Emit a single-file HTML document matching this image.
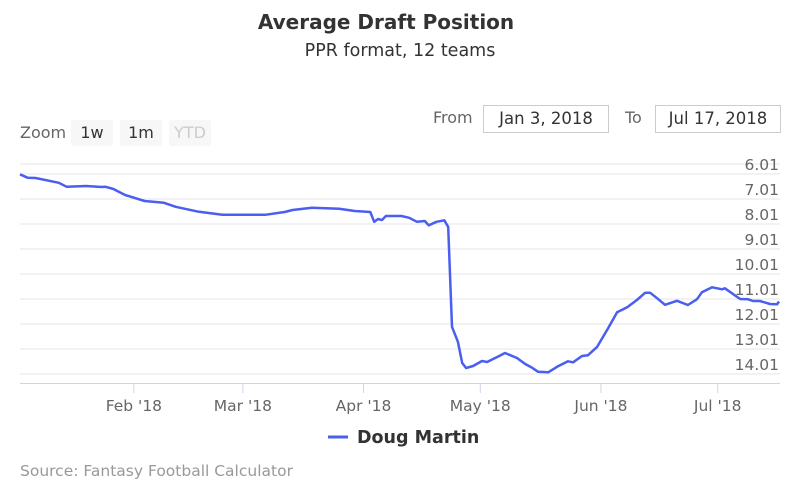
<!DOCTYPE html>
<html><head><meta charset="utf-8"><style>
body{margin:0;background:#fff;font-family:"DejaVu Sans","Liberation Sans",sans-serif;}
#wrap{position:relative;width:800px;height:500px;overflow:hidden;}
.t{position:absolute;white-space:nowrap;}
.btn{position:absolute;top:120px;height:26px;line-height:26px;background:#f7f7f7;color:#333;font-size:16px;text-align:center;border-radius:2px;}
.inp{position:absolute;top:105px;height:26px;line-height:26px;border:1px solid #ccc;font-size:16.5px;color:#333;text-align:center;}
</style></head><body>
<div id="wrap">
<div class="t" style="left:-14px;width:800px;text-align:center;top:10px;font-size:20px;font-weight:bold;color:#333;">Average Draft Position</div>
<div class="t" style="left:0;width:800px;text-align:center;top:41px;font-size:17.5px;color:#333;">PPR format, 12 teams</div>
<div class="t" style="left:20px;top:123px;font-size:16px;color:#666;">Zoom</div>
<div class="btn" style="left:71px;width:42px;">1w</div>
<div class="btn" style="left:120px;width:42px;">1m</div>
<div class="btn" style="left:169px;width:42px;color:#ccc;">YTD</div>
<div class="t" style="left:433px;top:108px;font-size:16px;color:#666;">From</div>
<div class="inp" style="left:483px;width:124px;">Jan 3, 2018</div>
<div class="t" style="left:625px;top:108px;font-size:16px;color:#666;">To</div>
<div class="inp" style="left:655px;width:124px;">Jul 17, 2018</div>
<svg id="svg" width="800" height="500" style="position:absolute;left:0;top:0"></svg>
<div class="t" style="left:20px;top:462px;font-size:15.5px;color:#999;">Source: Fantasy Football Calculator</div>
</div>
<script>
const days=[0,2,4,10,12,17,21,22,24,27,32,37,40,46,52,63,68,70,75,82,86,90,91,92,93,94,98,100,102,104,105,107,109,110,111,112.5,113.6,114.6,116.4,118.7,120,122.6,124.6,127.7,129.8,131.6,133.1,135.7,138,140.8,142.1,144.4,145.9,148.3,151.1,153.4,156,158.5,160.6,161.9,163.7,165.7,168.8,171.6,173.9,175.2,177.8,180.4,181.1,185,187.1,188.3,190.1,192.7,194.5,195];
const adp=[6.02,6.16,6.17,6.36,6.52,6.49,6.53,6.52,6.61,6.85,7.09,7.16,7.32,7.52,7.64,7.64,7.53,7.45,7.36,7.40,7.49,7.53,7.92,7.81,7.85,7.69,7.69,7.76,7.92,7.89,8.06,7.92,7.86,8.13,12.12,12.72,13.57,13.77,13.69,13.49,13.53,13.33,13.17,13.37,13.61,13.76,13.92,13.94,13.72,13.50,13.54,13.29,13.26,12.92,12.18,11.54,11.34,11.05,10.76,10.76,10.98,11.24,11.08,11.25,11.02,10.74,10.54,10.62,10.58,11.01,11.02,11.09,11.09,11.21,11.22,11.11];
const yTicks=[6.01,7.01,8.01,9.01,10.01,11.01,12.01,13.01,14.01];
const xTickDays=[29,57,88,118,149,179];
const xTickLabels=["Feb '18","Mar '18","Apr '18","May '18","Jun '18","Jul '18"];
const NS="http://www.w3.org/2000/svg",svgEl=document.getElementById('svg');
const PL=20,PR=779,PT=164,PB=383;
const xs=d=>PL+d*(PR-PL)/195;
const ys=v=>174+(v-6.01)*25;
function mk(t,a){const e=document.createElementNS(NS,t);for(const k in a)e.setAttribute(k,a[k]);svgEl.appendChild(e);return e;}
const topLine=mk('line',{x1:PL,x2:PR+1,y1:PT,y2:PT,stroke:'#e6e6e6'});


yTicks.forEach(v=>{
 const g=mk('line',{x1:PL,x2:PR+1,y1:ys(v),y2:ys(v),stroke:'#e6e6e6'});
 
 
 const t=mk('text',{x:779,y:ys(v)-4,'text-anchor':'end','font-size':15.5,fill:'#666'});
 t.textContent=v.toFixed(2);
 
 
});
const ax=mk('line',{x1:PL,x2:PR+1,y1:PB+0.5,y2:PB+0.5,stroke:'#ccd6eb'});


xTickDays.forEach((d,i)=>{
 const tk=mk('line',{x1:xs(d)+1,x2:xs(d)+1,y1:PB,y2:PB+10,stroke:'#ccd6eb'});
 
 
 const t=mk('text',{x:xs(d)+1,y:411,'text-anchor':'middle','font-size':15.5,fill:'#666'});
 t.textContent=xTickLabels[i];
 
 
});
const p=mk('path',{d:days.map((d,i)=>(i?'L':'M')+xs(d).toFixed(1)+' '+ys(adp[i]).toFixed(1)).join(''),fill:'none',stroke:'#4a5ef0','stroke-width':2.5,'stroke-linejoin':'round'});


const lg=mk('line',{x1:328,x2:348,y1:437,y2:437,stroke:'#4a5ef0','stroke-width':3});


const lt=mk('text',{x:357,y:443,'font-size':17.5,'font-weight':'bold',fill:'#333'});
lt.textContent='Doug Martin';


</script>
</body></html>
